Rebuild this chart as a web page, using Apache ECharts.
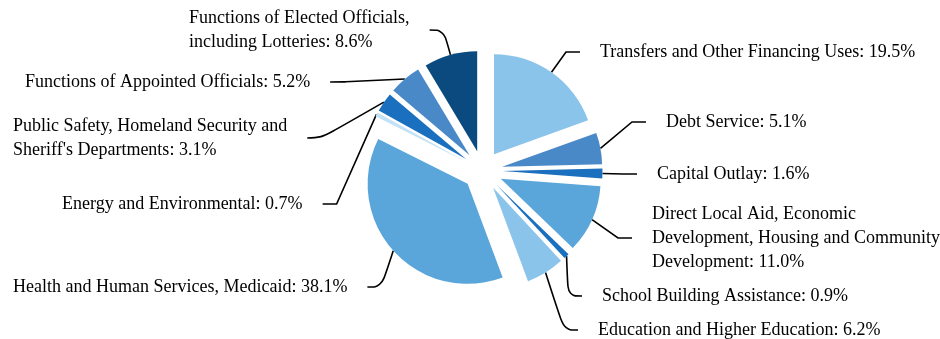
<!DOCTYPE html>
<html>
<head>
<meta charset="utf-8">
<script src="https://cdn.jsdelivr.net/npm/echarts@6/dist/echarts.min.js"></script>
<style>html,body{margin:0;padding:0;background:#fff}#c{width:940px;height:339px}</style>
</head>
<body>
<div id="c"></div>
<script>
var categories = [
  'Transfers and Other Financing Uses',
  'Debt Service',
  'Capital Outlay',
  'Direct Local Aid, Economic\nDevelopment, Housing and Community\nDevelopment',
  'School Building Assistance',
  'Education and Higher Education',
  'Health and Human Services, Medicaid',
  'Energy and Environmental',
  'Public Safety, Homeland Security and\nSheriff\'s Departments',
  'Functions of Appointed Officials',
  'Functions of Elected Officials,\nincluding Lotteries'
];
var values = [19.5, 5.1, 1.6, 11.0, 0.9, 6.2, 38.1, 0.7, 3.1, 5.2, 8.6];
var colors = ['#8BC4EA', '#4A89C8', '#1A6FBE', '#5AA5DA', '#1A6FBE', '#8BC4EA', '#5AA5DA', '#C4E2F5', '#1A6FBE', '#4A89C8', '#0B4A7E'];
// label anchor (left edge, vertical centre of text block)
var labelPos = [
  [600, 52], [666, 122], [657, 174], [652, 238], [602, 296], [598, 330],
  [13, 287], [62, 204], [13, 138], [25, 82], [189, 30]
];
var smoothLines = [false, false, false, false, true, true, true, false, true, true, true];
var PAD = 20;
var CX = 482.5, CY = 170.5, R = 100, EXPLODE = 20;

var total = values.reduce(function (a, b) { return a + b; }, 0);
var chart = echarts.init(document.getElementById('c'), null, {renderer: 'canvas'});

var series = [];
var cum = 0;
values.forEach(function (v, i) {
  var mid = (cum + v / 2) / total * 2 * Math.PI;
  cum += v;
  var cx = CX + EXPLODE * Math.sin(mid);
  var cy = CY - EXPLODE * Math.cos(mid);
  series.push({
    type: 'pie',
    center: [cx, cy],
    radius: [0, R],
    startAngle: 90,
    clockwise: true,
    avoidLabelOverlap: false,
    emphasis: {disabled: true},
    silent: true,
    label: {
      show: true,
      position: 'outside',
      fontFamily: 'Liberation Serif',
      fontSize: 18,
      lineHeight: 24,
      color: '#000',
      padding: [0, PAD],
      formatter: function (p) { return p.name + ': ' + p.value.toFixed(1) + '%'; }
    },
    labelLine: {show: true, length: 12, length2: 14, smooth: smoothLines[i] ? 0.4 : false,
      lineStyle: {color: '#000', width: 1.6}},
    labelLayout: function (p) {
      var pos = labelPos[p.dataIndex];
      return {x: pos[0] - PAD, y: pos[1], align: 'left', verticalAlign: 'middle'};
    },
    data: categories.map(function (n, j) {
      if (j === i) {
        return {name: n, value: values[j], itemStyle: {color: colors[j], borderWidth: 0}};
      }
      return {name: n, value: values[j], itemStyle: {color: 'rgba(0,0,0,0)', borderWidth: 0},
        label: {show: false}, labelLine: {show: false}};
    })
  });
});
chart.setOption({animation: false, series: series});
</script>
</body>
</html>
